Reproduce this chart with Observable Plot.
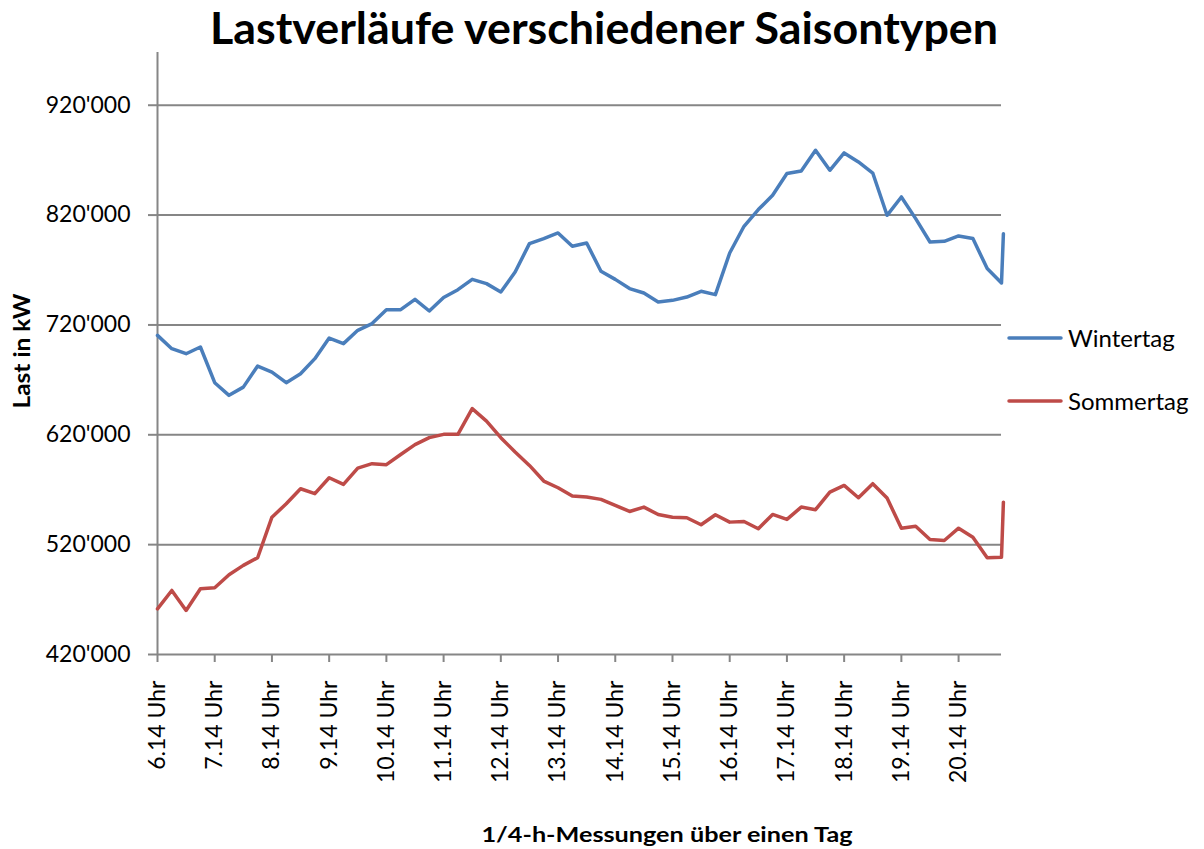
<!DOCTYPE html>
<html>
<head>
<meta charset="utf-8">
<script src="https://cdn.jsdelivr.net/npm/d3@7"></script>
<script src="https://cdn.jsdelivr.net/npm/@observablehq/plot@0.6"></script>
<style>
  html, body { margin: 0; padding: 0; background: #fff; }
  #chart svg { display: block; }
</style>
</head>
<body>
<div id="chart"></div>
<script>
// Load in kW, one reading per quarter hour starting at 6.14 Uhr, plus a final reading just after 20.59
const wintertag = [
  710500, 698400, 693800, 699900, 667400, 655900, 663400, 682600, 677100, 667400,
  675600, 689300, 708100, 703000, 715100, 721200, 733900, 733900, 743300, 732700,
  745000, 752100, 761500, 757600, 750000, 768200, 794000, 798600, 803700, 791600,
  794600, 768800, 761500, 753100, 749100, 740900, 742400, 745400, 750600, 747600,
  785500, 809800, 825000, 838000, 857800, 860200, 879000, 860800, 876600, 868400,
  858300, 819800, 836500, 816800, 795500, 796100, 801000, 798600, 771300, 758200,
  803000
];
const sommertag = [
  461600, 478300, 460100, 479800, 480700, 492600, 501100, 508100, 545000, 557200,
  570900, 566400, 580900, 574800, 589700, 593700, 592800, 602100, 611000, 617400,
  620400, 620400, 643800, 632500, 617400, 604300, 592100, 577900, 571800, 564200,
  563300, 561200, 555700, 550200, 554200, 547500, 545000, 544500, 538100, 547200,
  540500, 541100, 534500, 547500, 543000, 554200, 551800, 567800, 573900, 562700,
  575500, 562400, 535000, 536800, 524700, 523800, 535000, 526800, 508100, 508600,
  558700
];
// minutes after 6.14 Uhr for each reading (quarter hours, then the last reading at 21.01)
const readingMinutes = [...d3.range(60).map(i => i * 15), 887];

const seriesNames = ["Wintertag", "Sommertag"];
const seriesColors = ["#4A7EBB", "#BE4B48"];

const xTickMinutes = d3.range(0, 841, 60);
const xTickLabels = ["6.14 Uhr", "7.14 Uhr", "8.14 Uhr", "9.14 Uhr", "10.14 Uhr", "11.14 Uhr", "12.14 Uhr",
  "13.14 Uhr", "14.14 Uhr", "15.14 Uhr", "16.14 Uhr", "17.14 Uhr", "18.14 Uhr", "19.14 Uhr", "20.14 Uhr"];
const yTicks = [420000, 520000, 620000, 720000, 820000, 920000];
const yTickLabels = ["420'000", "520'000", "620'000", "720'000", "820'000", "920'000"];

const titleText = "Lastverläufe verschiedener Saisontypen";
const yTitle = "Last in kW";
const xTitle = "1/4-h-Messungen über einen Tag";

const rows = [];
[wintertag, sommertag].forEach((vals, s) => {
  vals.forEach((v, i) => rows.push({minute: readingMinutes[i], load: v, series: seriesNames[s]}));
});

const gray = "#868686";
const W = 1204, H = 849;
const mL = 157, mR = 203, mT = 52, mB = 195;
const font = "Lato, 'Open Sans', sans-serif";

const chart = Plot.plot({
  width: W, height: H,
  marginLeft: mL, marginRight: mR, marginTop: mT, marginBottom: mB,
  style: {fontFamily: font, fontSize: "23px", color: "#000", background: "#fff", overflow: "visible"},
  x: {domain: [0, 885]},
  y: {domain: [420000, 968000]},
  color: {domain: seriesNames, range: seriesColors},
  marks: [
    Plot.gridY(yTicks.slice(1), {stroke: gray, strokeOpacity: 1, strokeWidth: 2}),
    Plot.ruleX([0], {stroke: gray, strokeWidth: 2}),
    Plot.ruleY([420000], {stroke: gray, strokeWidth: 2}),
    Plot.axisY(yTicks, {
      tickSize: 9, tickPadding: 18, stroke: gray, strokeWidth: 2, fill: "#000",
      fontSize: 23, label: null,
      tickFormat: d => yTickLabels[yTicks.indexOf(d)]
    }),
    Plot.axisX(xTickMinutes, {
      tickSize: 8, tickPadding: 18, tickRotate: -90, stroke: gray, strokeWidth: 2, fill: "#000",
      fontSize: 23, label: null,
      tickFormat: d => xTickLabels[xTickMinutes.indexOf(d)]
    }),
    Plot.lineY(rows, {x: "minute", y: "load", z: "series", stroke: "series",
      strokeWidth: 3.5, strokeLinejoin: "round", strokeLinecap: "round"})
  ]
});

const svg = d3.select(chart);
svg.append("text")
  .attr("x", 604).attr("y", 44)
  .attr("text-anchor", "middle")
  .attr("font-family", font)
  .attr("font-weight", "bold").attr("font-size", 44)
  .attr("textLength", 788).attr("lengthAdjust", "spacingAndGlyphs")
  .attr("fill", "#000")
  .text(titleText);

svg.append("text")
  .attr("transform", "translate(30,351) rotate(-90)")
  .attr("text-anchor", "middle")
  .attr("font-family", font)
  .attr("font-weight", "bold").attr("font-size", 23)
  .attr("textLength", 115).attr("lengthAdjust", "spacingAndGlyphs")
  .attr("fill", "#000")
  .text(yTitle);

svg.append("text")
  .attr("x", 667).attr("y", 842)
  .attr("text-anchor", "middle")
  .attr("font-family", font)
  .attr("font-weight", "bold").attr("font-size", 21)
  .attr("textLength", 371).attr("lengthAdjust", "spacingAndGlyphs")
  .attr("fill", "#000")
  .text(xTitle);

const legendY = [338, 401];
const lg = svg.append("g");
seriesNames.forEach((name, i) => {
  lg.append("line")
    .attr("x1", 1009).attr("x2", 1061)
    .attr("y1", legendY[i]).attr("y2", legendY[i])
    .attr("stroke", seriesColors[i]).attr("stroke-width", 3.5).attr("stroke-linecap", "round");
  lg.append("text")
    .attr("x", 1068).attr("y", legendY[i] + 9)
    .attr("text-anchor", "start")
    .attr("font-family", font)
    .attr("font-size", 24).attr("fill", "#000")
    .text(name);
});

document.getElementById("chart").appendChild(chart);
</script>
</body>
</html>
